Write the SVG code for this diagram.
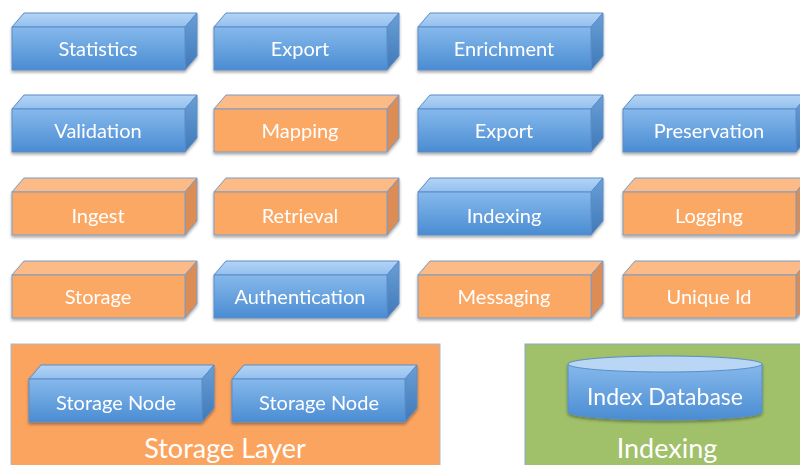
<svg xmlns="http://www.w3.org/2000/svg" width="800" height="465" viewBox="0 0 800 465">
<defs>
<linearGradient id="bf" x1="0" y1="0" x2="0" y2="1"><stop offset="0" stop-color="#86b9ec"/><stop offset="1" stop-color="#4a8cd2"/></linearGradient>
<linearGradient id="bt" x1="0" y1="0" x2="0" y2="1"><stop offset="0" stop-color="#b3d4f5"/><stop offset="1" stop-color="#93c0ee"/></linearGradient>
<linearGradient id="br" x1="0" y1="0" x2="0" y2="1"><stop offset="0" stop-color="#6a9fd6"/><stop offset="1" stop-color="#3f79b8"/></linearGradient>
<linearGradient id="cb" x1="0" y1="0" x2="0" y2="1"><stop offset="0" stop-color="#86b9ec"/><stop offset="1" stop-color="#4a8cd2"/></linearGradient>
<filter id="sh" x="-10%" y="-10%" width="120%" height="130%"><feGaussianBlur in="SourceAlpha" stdDeviation="1.5"/><feOffset dy="2"/><feComponentTransfer><feFuncA type="linear" slope="0.35"/></feComponentTransfer><feMerge><feMergeNode/><feMergeNode in="SourceGraphic"/></feMerge></filter>
<g id="blue">
<polygon points="0,14 12,0 185,0 173,14" fill="url(#bt)" stroke="#5b8cc8" stroke-width="1"/>
<polygon points="173,14 185,0 185,43 173,57" fill="url(#br)" stroke="#5b8cc8" stroke-width="1"/>
<rect x="0" y="14" width="173" height="43" fill="url(#bf)" stroke="#5b8cc8" stroke-width="1"/>
</g>
<g id="orange">
<polygon points="0,14 12,0 185,0 173,14" fill="#fcba86" stroke="#7d9cc4" stroke-width="1"/>
<polygon points="173,14 185,0 185,43 173,57" fill="#dc8d54" stroke="#7d9cc4" stroke-width="1"/>
<rect x="0" y="14" width="173" height="43" fill="#fba865" stroke="#7d9cc4" stroke-width="1"/>
</g>
</defs>
<style>
.t{font-family:Lato,"Open Sans","Liberation Sans",sans-serif;font-size:20px;fill:#ffffff;text-anchor:middle}
.big{font-family:Lato,"Open Sans","Liberation Sans",sans-serif;font-size:27px;fill:#ffffff;text-anchor:middle}
</style>
<rect width="800" height="465" fill="#ffffff"/>
<g id="storage-layer">
<rect x="11" y="344" width="429" height="130" fill="#fba460" stroke="#a8b8cc" stroke-width="1"/>
<text class="big" x="225" y="458">Storage Layer</text>
</g>
<g id="indexing-layer">
<rect x="525" y="344" width="285" height="130" fill="#a0c06a" stroke="#8aa6c8" stroke-width="1"/>
<text class="big" x="667" y="458">Indexing</text>
</g>
<g id="connectors"/>
<g id="n-statistics" filter="url(#sh)"><use href="#blue" x="12" y="13"/><text class="t" x="98" y="56">Statistics</text></g>
<g id="n-export1" filter="url(#sh)"><use href="#blue" x="214" y="13"/><text class="t" x="300" y="56">Export</text></g>
<g id="n-enrichment" filter="url(#sh)"><use href="#blue" x="418" y="13"/><text class="t" x="504" y="56">Enrichment</text></g>
<g id="n-validation" filter="url(#sh)"><use href="#blue" x="12" y="95"/><text class="t" x="98" y="138">Validation</text></g>
<g id="n-mapping" filter="url(#sh)"><use href="#orange" x="214" y="95"/><text class="t" x="300" y="138">Mapping</text></g>
<g id="n-export2" filter="url(#sh)"><use href="#blue" x="418" y="95"/><text class="t" x="504" y="138">Export</text></g>
<g id="n-preservation" filter="url(#sh)"><use href="#blue" x="623" y="95"/><text class="t" x="709" y="138">Preservation</text></g>
<g id="n-ingest" filter="url(#sh)"><use href="#orange" x="12" y="178"/><text class="t" x="98" y="223">Ingest</text></g>
<g id="n-retrieval" filter="url(#sh)"><use href="#orange" x="214" y="178"/><text class="t" x="300" y="223">Retrieval</text></g>
<g id="n-indexing" filter="url(#sh)"><use href="#blue" x="418" y="178"/><text class="t" x="504" y="223">Indexing</text></g>
<g id="n-logging" filter="url(#sh)"><use href="#orange" x="623" y="178"/><text class="t" x="709" y="223">Logging</text></g>
<g id="n-storage" filter="url(#sh)"><use href="#orange" x="12" y="261"/><text class="t" x="98" y="304">Storage</text></g>
<g id="n-authentication" filter="url(#sh)"><use href="#blue" x="214" y="261"/><text class="t" x="300" y="304">Authentication</text></g>
<g id="n-messaging" filter="url(#sh)"><use href="#orange" x="418" y="261"/><text class="t" x="504" y="304">Messaging</text></g>
<g id="n-uniqueid" filter="url(#sh)"><use href="#orange" x="623" y="261"/><text class="t" x="709" y="304">Unique Id</text></g>
<g id="n-storagenode1" filter="url(#sh)"><use href="#blue" x="29" y="365"/><text class="t" x="116" y="410">Storage Node</text></g>
<g id="n-storagenode2" filter="url(#sh)"><use href="#blue" x="232" y="365"/><text class="t" x="319" y="410">Storage Node</text></g>
<g id="n-indexdb" filter="url(#sh)">
<path d="M568,364 L568,412 A97,8 0 0 0 762,412 L762,364" fill="url(#cb)" stroke="#5b8cc8" stroke-width="1"/>
<ellipse cx="665" cy="364" rx="97" ry="8" fill="#b9d7f5" stroke="#5b8cc8" stroke-width="1"/>
<text class="t" x="665" y="405" style="font-size:23px">Index Database</text>
</g>
</svg>
